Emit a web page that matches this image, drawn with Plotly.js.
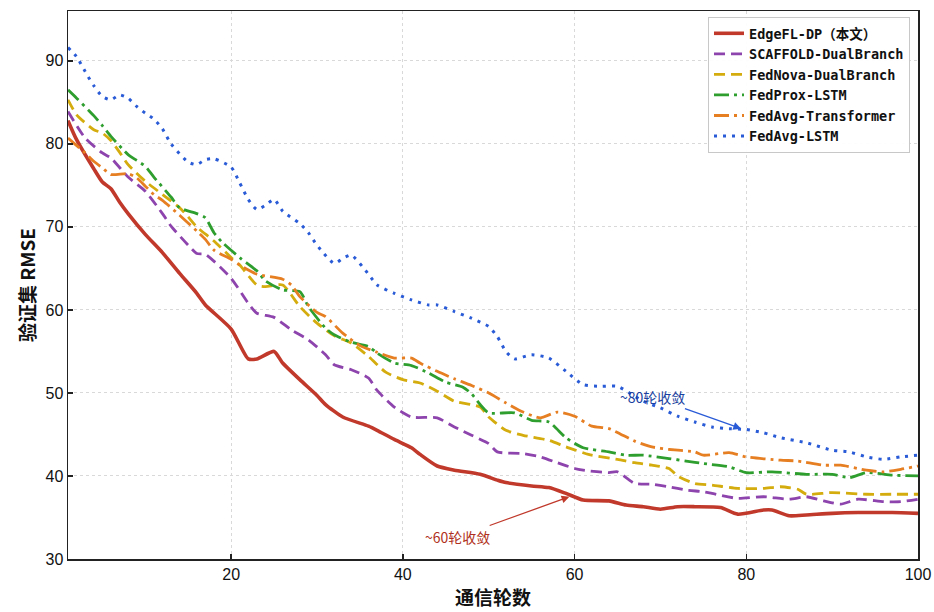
<!DOCTYPE html>
<html>
<head>
<meta charset="utf-8">
<script src="https://cdn.plot.ly/plotly-3.0.1.min.js"></script>
<style>html,body{margin:0;padding:0;background:#fff;}#chart{width:934px;height:612px;}</style>
</head>
<body>
<div id="chart"></div>
<script>
// ---- data ----
const seriesNames = ["EdgeFL-DP（本文）", "SCAFFOLD-DualBranch", "FedNova-DualBranch", "FedProx-LSTM", "FedAvg-Transformer", "FedAvg-LSTM"];

const edgeX = [1,2,4,5,6,7,8,10,12,14,16,17,20,22,23,25,26,28,30,31,33,36,37,39,41,42,44,46,49,51,52,55,57,59,61,64,66,68,70,72,74,77,79,82,83,85,87,90,93,97,100];
const edgeY = [82.8,80.5,77.0,75.4,74.6,73.0,71.6,69.1,66.9,64.4,62.0,60.6,57.7,54.1,54.1,55.0,53.6,51.6,49.7,48.6,47.1,46.0,45.5,44.4,43.4,42.6,41.2,40.7,40.2,39.5,39.2,38.8,38.6,37.9,37.1,37.0,36.5,36.3,36.0,36.3,36.3,36.2,35.4,35.9,35.9,35.2,35.3,35.5,35.6,35.6,35.5];

const scafX = [1,3,5,6,8,10,12,13,15,16,17,20,22,23,25,27,29,31,32,34,36,37,39,41,44,46,48,50,51,54,56,58,60,61,64,65,67,69,71,73,75,76,79,82,85,87,89,91,93,96,98,100];
const scafY = [83.9,80.7,78.9,78.3,76.0,74.3,71.6,70.1,67.8,66.8,66.7,63.8,60.8,59.6,59.1,57.6,56.4,54.6,53.4,52.8,51.8,50.3,48.3,47.1,47.0,45.9,44.9,43.9,42.9,42.7,42.3,41.6,40.9,40.7,40.4,40.5,39.1,39.0,38.7,38.3,38.1,37.9,37.3,37.5,37.2,37.5,37.0,36.6,37.2,36.9,36.9,37.2];

const novaX = [1,2,4,5,6,7,8,10,12,14,15,16,18,20,21,23,24,26,28,30,32,34,36,38,40,42,44,46,49,50,52,54,57,59,61,62,65,67,69,71,72,74,76,79,82,84,86,87,90,94,97,100];
const novaY = [85.3,83.5,81.7,81.3,80.4,79.0,77.5,75.5,73.9,72.3,71.2,70.0,68.3,66.3,65.4,63.0,62.8,63.0,60.4,58.4,56.9,56.0,54.4,52.5,51.6,51.2,50.2,49.0,48.3,47.1,45.5,44.9,44.3,43.5,42.8,42.5,42.0,41.6,41.3,40.9,40.0,39.1,38.9,38.5,38.5,38.7,38.4,37.8,38.0,37.8,37.8,37.8];

const proxX = [1,2,4,5,6,8,9,10,11,13,14,16,17,18,19,21,23,24,26,28,29,31,32,34,36,37,39,41,43,45,47,48,49,50,53,55,57,59,61,64,66,68,71,73,75,78,80,83,87,90,92,94,97,100];
const proxY = [86.5,85.5,83.4,82.2,80.9,78.7,78.0,77.3,76.0,73.6,72.3,71.6,71.1,69.3,68.1,66.3,64.7,63.5,62.4,62.2,60.4,57.8,57.0,56.1,55.6,54.8,53.6,53.3,52.4,51.3,50.7,49.9,48.6,47.6,47.6,46.7,46.5,44.6,43.4,42.9,42.5,42.5,42.1,41.8,41.5,41.1,40.4,40.5,40.2,40.2,39.8,40.4,40.1,40.0];

const transX = [1,3,4,5,6,8,9,10,11,12,14,16,17,18,20,21,23,26,27,28,30,31,33,35,37,39,41,42,44,46,48,50,52,54,56,58,60,62,64,67,69,71,74,75,78,80,84,86,89,91,94,96,98,100];
const transY = [80.7,78.9,77.9,77.1,76.3,76.4,75.9,74.9,73.9,73.2,71.4,69.5,68.5,67.2,66.1,65.4,64.3,63.7,63.0,61.6,59.7,59.2,57.2,55.7,54.9,54.2,54.2,53.6,52.6,51.7,50.9,50.0,48.8,47.7,47.0,47.7,47.2,46.0,45.7,44.2,43.5,43.2,42.9,42.5,42.8,42.3,41.9,41.8,41.3,41.3,40.7,40.5,40.8,41.2];

const lstmX = [1,2,3,4,5,6,7,8,9,10,11,12,13,15,16,17,18,20,21,22,23,24,25,26,28,29,30,32,33,34,36,37,39,41,43,44,46,48,50,51,52,53,55,57,59,61,63,65,67,68,70,72,74,76,78,80,82,84,87,90,92,94,96,98,100];
const lstmY = [91.6,90.5,88.7,87.0,85.7,85.3,85.9,85.5,84.5,83.7,83.0,81.8,80.0,77.8,77.5,78.1,78.2,77.2,75.3,73.3,72.1,72.6,73.3,71.9,70.4,69.3,67.8,65.6,66.2,66.6,64.3,63.0,62.0,61.2,60.6,60.6,59.8,59.0,58.0,56.8,55.0,54.1,54.6,54.2,52.6,51.0,50.8,50.8,49.6,49.0,48.2,47.2,46.5,45.9,45.7,45.6,45.2,44.6,44.0,43.1,42.9,42.3,42.0,42.3,42.5];

const xTicks = [20, 40, 60, 80, 100];
const yTicks = [30, 40, 50, 60, 70, 80, 90];

// ---- styling ----
const styles = [
  {color: "#c0392b", width: 3.6, dash: "solid"},
  {color: "#8e44ad", width: 2.8, dash: "11px,6px"},
  {color: "#d4ac0d", width: 2.8, dash: "11px,6px"},
  {color: "#2e9e2e", width: 2.8, dash: "15px,5px,3px,5px"},
  {color: "#e67e22", width: 2.8, dash: "15px,5px,3px,5px"},
  {color: "#2a5bd7", width: 3.0, dash: "3px,6px"}
];
const xs = [edgeX, scafX, novaX, proxX, transX, lstmX];
const ys = [edgeY, scafY, novaY, proxY, transY, lstmY];

const traces = seriesNames.map((n, i) => ({
  type: "scatter", mode: "lines", name: n,
  x: xs[i], y: ys[i],
  line: {color: styles[i].color, width: styles[i].width, dash: styles[i].dash, shape: "spline", smoothing: 0.6}
}));

const axisCommon = {
  showline: true, mirror: true, linecolor: "#222", linewidth: 1.5,
  ticks: "inside", ticklen: 5, tickwidth: 1.5, tickcolor: "#222",
  showgrid: true, gridcolor: "#d9d9d9", griddash: "dot", gridwidth: 1,
  zeroline: false,
  tickfont: {family: "Liberation Sans, Arial, sans-serif", size: 16, color: "#111"}
};

const layout = {
  width: 934, height: 612,
  margin: {l: 68, r: 16, t: 11, b: 53},
  paper_bgcolor: "#fff", plot_bgcolor: "#fff",
  showlegend: true,
  legend: {
    x: 0.9906, xanchor: "right", y: 0.989, yanchor: "top",
    bgcolor: "rgba(255,255,255,0.95)", bordercolor: "#c8c8c8", borderwidth: 1,
    font: {family: "DejaVu Sans Mono, Noto Sans CJK SC, monospace", size: 13.5, color: "#111", weight: "bold"},
    tracegroupgap: 0
  },
  xaxis: Object.assign({}, axisCommon, {
    range: [1, 100], tickvals: xTicks,
    title: {text: "通信轮数", font: {family: "Noto Sans CJK SC, sans-serif", size: 19, color: "#111", weight: "bold"}, standoff: 10}
  }),
  yaxis: Object.assign({}, axisCommon, {
    range: [30, 96], tickvals: yTicks,
    title: {text: "验证集 RMSE", font: {family: "Noto Sans CJK SC, sans-serif", size: 19, color: "#111", weight: "bold"}, standoff: 5}
  }),
  annotations: [
    {x: 59.4, y: 37.5, xref: "x", yref: "y", ax: 46.4, ay: 32.65, axref: "x", ayref: "y",
     text: "~60轮收敛", showarrow: true, arrowhead: 2, arrowsize: 1.2, arrowwidth: 1.3, arrowcolor: "#c0392b",
     font: {family: "Noto Sans CJK SC, sans-serif", size: 14, color: "#b03020"}},
    {x: 79.4, y: 45.7, xref: "x", yref: "y", ax: 69.1, ay: 49.5, axref: "x", ayref: "y",
     text: "~80轮收敛", showarrow: true, arrowhead: 2, arrowsize: 1.2, arrowwidth: 1.3, arrowcolor: "#2a5bd7",
     font: {family: "Noto Sans CJK SC, sans-serif", size: 14, color: "#1a3fa0"}}
  ]
};

Plotly.newPlot("chart", traces, layout, {displayModeBar: false, staticPlot: true});
</script>
</body>
</html>
